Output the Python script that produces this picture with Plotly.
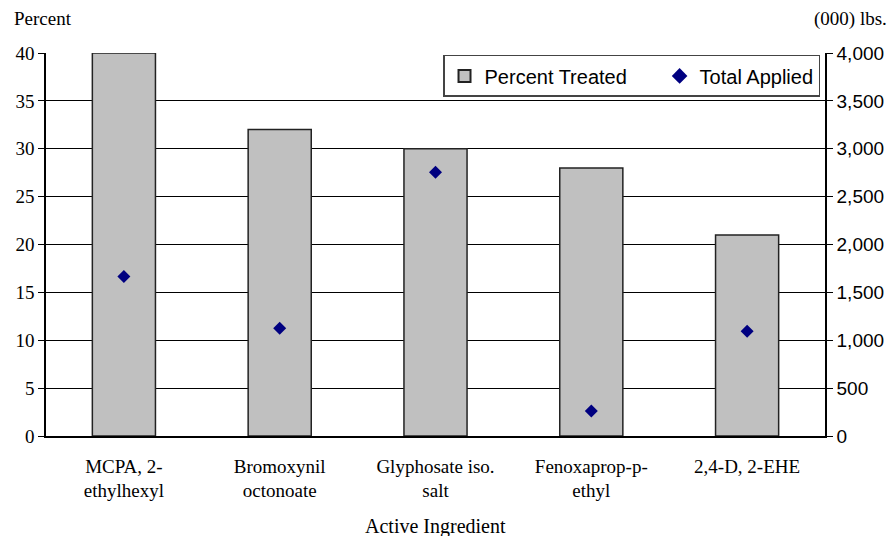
import plotly.graph_objects as go

categories = ["MCPA, 2-<br>ethylhexyl", "Bromoxynil<br>octonoate", "Glyphosate iso.<br>salt",
              "Fenoxaprop-p-<br>ethyl", "2,4-D, 2-EHE"]
percent_treated = [40, 32, 30, 28, 21]
total_applied = [1665, 1125, 2755, 260, 1095]
left_ticks = [0, 5, 10, 15, 20, 25, 30, 35, 40]
right_ticks = [0, 500, 1000, 1500, 2000, 2500, 3000, 3500, 4000]
right_labels = ["0", "500", "1,000", "1,500", "2,000", "2,500", "3,000", "3,500", "4,000"]

serif = "Liberation Serif, Times New Roman, serif"
sans = "Liberation Sans, Arial, sans-serif"

fig = go.Figure()
fig.add_trace(go.Bar(
    x=categories, y=percent_treated, name="Percent Treated" + "\u00a0" * 5,
    marker=dict(color="#c0c0c0", line=dict(color="#222222", width=1.5)),
    width=0.405, yaxis="y"))
fig.add_trace(go.Scatter(
    x=categories, y=total_applied, name="Total Applied", mode="markers",
    marker=dict(symbol="diamond", color="#000080", size=10), yaxis="y2"))

fig.update_layout(
    width=891, height=536,
    margin=dict(l=46, r=66, t=53, b=100, autoexpand=False),
    paper_bgcolor="white", plot_bgcolor="white",
    showlegend=True,
    legend=dict(orientation="h", x=0.9936, xanchor="right", y=0.995, yanchor="top",
                bordercolor="#444444", borderwidth=1.5, bgcolor="white",
                font=dict(family=sans, size=20, color="black"),
                itemsizing="constant", traceorder="normal"),
    xaxis=dict(showline=True, linecolor="black", linewidth=1.5, ticks="",
               tickfont=dict(family=serif, size=19, color="black"),
               ticklabelstandoff=12, showgrid=False),
    yaxis=dict(range=[0, 40], tickvals=left_ticks, showgrid=True, gridcolor="black",
               gridwidth=1, showline=True, linecolor="black", linewidth=1.5,
               ticks="outside", ticklen=6, tickcolor="black",
               tickfont=dict(family=serif, size=19, color="black"), zeroline=False),
    yaxis2=dict(range=[0, 4000], tickvals=right_ticks, ticktext=right_labels,
                overlaying="y", side="right", showgrid=False, showline=True,
                linecolor="black", linewidth=1.5, ticks="outside", ticklen=6,
                tickcolor="black", tickfont=dict(family=sans, size=19, color="black"),
                zeroline=False),
    bargap=0.595,
    annotations=[
        dict(text="Percent", xref="paper", yref="paper", x=-0.0436, y=1.09,
             xanchor="left", yanchor="middle", showarrow=False,
             font=dict(family=serif, size=19, color="black")),
        dict(text="(000) lbs.", xref="paper", yref="paper", x=1.082, y=1.09,
             xanchor="right", yanchor="middle", showarrow=False,
             font=dict(family=serif, size=19, color="black")),
        dict(text="Active Ingredient", xref="paper", yref="paper", x=0.5, y=-0.237,
             xanchor="center", yanchor="middle", showarrow=False,
             font=dict(family=serif, size=20, color="black")),
    ],
)

fig.write_html("out.html", config={"displayModeBar": False},
               post_script="document.body.style.margin='0px';")
